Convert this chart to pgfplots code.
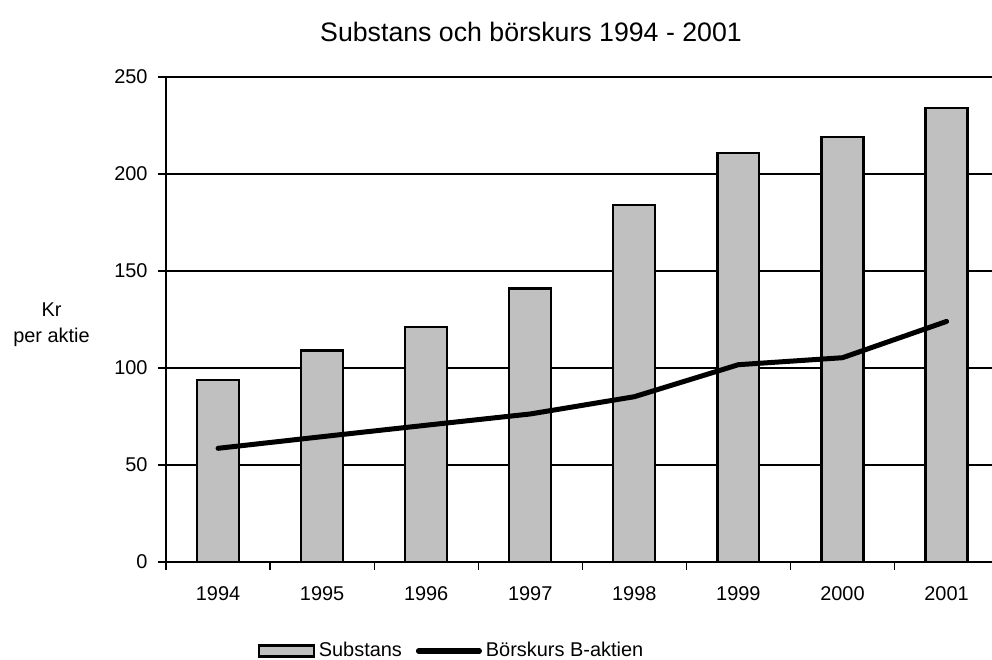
\documentclass[border=0pt]{standalone}
\usepackage{pgfplots}
\pgfplotsset{compat=1.18}
\usepackage{fontspec}
\setmainfont{Liberation Sans}
\definecolor{barfill}{HTML}{C0C0C0}
\begin{document}
\fontsize{10}{12}\selectfont
\begin{tikzpicture}
\begin{axis}[
  at={(0,0)}, anchor=south west,
  scale only axis,
  width=413bp, height=242.5bp,
  xmin=-0.5, xmax=7.437,
  ymin=0, ymax=250,
  axis lines*=left,
  axis line style={-, line width=0.7bp, black},
  tick align=outside,
  major tick length=4bp,
  tick style={black, line width=0.6bp},
  xtick={-0.5,0.5,...,6.5},
  xticklabels={},
  extra x ticks={0,1,2,3,4,5,6,7},
  extra x tick labels={1994,1995,1996,1997,1998,1999,2000,2001},
  extra x tick style={major tick length=0pt, xticklabel style={yshift=-8.7bp}},
  ytick={0,50,100,150,200,250},
  ymajorgrids,
  grid style={black, line width=0.55bp},
  yticklabel style={xshift=-1.7bp},
  /pgf/number format/assume math mode=true,
  ticklabel style={font=\fontsize{10}{12}\selectfont},
  legend columns=2,
  legend style={draw=none, fill=none, at={(rel axis cs:0.1105,-0.1835)}, anchor=west,
    inner sep=0pt, font=\fontsize{10}{12}\selectfont,
    nodes={inner sep=0pt},
    /tikz/every odd column/.append style={column sep=2bp},
    /tikz/every even column/.append style={column sep=7bp}},
  legend cell align=left,
]
\addplot[ybar, bar width=0.403, fill=barfill, draw=black, line width=1.1bp,
  legend image code/.code={\draw[fill=barfill, draw=black, line width=1.1bp] (0bp,-2.75bp) rectangle (27.5bp,2.75bp);}]
  coordinates {(0,94) (1,109) (2,121) (3,141) (4,184) (5,211) (6,219) (7,234)};
\addlegendentry{Substans}
\addplot[black, line width=2.5bp, line cap=round, line join=round, mark=none,
  legend image code/.code={\draw[black, line width=2.5bp] (0bp,0bp) -- (30.5bp,0bp);}]
  coordinates {(0,58.6) (1,64.6) (2,70.5) (3,76.3) (4,85.2) (5,101.7) (6,105.3) (7,124)};
\addlegendentry{Börskurs B-aktien}
\end{axis}
\node[anchor=base, font=\fontsize{13.4}{16}\selectfont] at (182.5bp,260bp) {Substans och börskurs 1994 - 2001};
\node[anchor=base] at (-57.25bp,122.5bp) {Kr};
\node[anchor=base] at (-57.25bp,109.5bp) {per aktie};
\pgfresetboundingbox
\path[use as bounding box] (-83bp,-49bp) rectangle (413bp,281bp);
\end{tikzpicture}
\end{document}
